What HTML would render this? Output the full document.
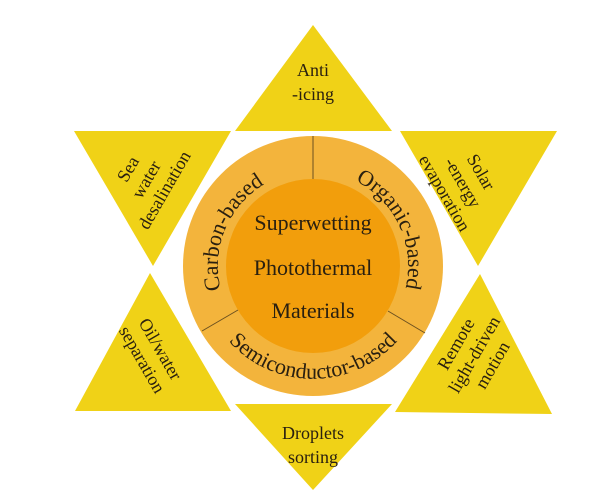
<!DOCTYPE html>
<html><head><meta charset="utf-8"><style>
html,body{margin:0;padding:0;background:#fff;}
svg{display:block;}
text{font-family:"Liberation Serif",serif;fill:#2a2010;}
</style></head><body>
<svg width="602" height="499" viewBox="0 0 602 499" xmlns="http://www.w3.org/2000/svg">
<g fill="#F0D217">
<polygon points="313,25 235,131 392,131"/>
<polygon points="74,131 231,131 153,266"/>
<polygon points="400,131 557,131 478,266"/>
<polygon points="150,273 75,411 231,411"/>
<polygon points="480,274 395,412 552,414"/>
<polygon points="235,404 392,404 313,490"/>
</g>
<circle cx="313" cy="266" r="130" fill="#F3B43C"/>
<circle cx="313" cy="266" r="87" fill="#F29E0C"/>
<g stroke="#6b5020" stroke-width="1">
<line x1="313" y1="136" x2="313" y2="179"/>
<line x1="202" y1="331" x2="238" y2="310"/>
<line x1="425" y1="333" x2="388" y2="311"/>
</g>
<defs>
<path id="arcL" d="M 240,327 A 95 95 0 0 1 313,171"/>
<path id="arcR" d="M 313,171 A 95 95 0 0 1 386,327"/>
<path id="arcB" d="M 207,305 A 113 113 0 0 0 419,305"/>
</defs>
<text font-size="22"><textPath href="#arcL" startOffset="48%" text-anchor="middle">Carbon-based</textPath></text>
<text font-size="22"><textPath href="#arcR" startOffset="50%" text-anchor="middle">Organic-based</textPath></text>
<text font-size="22"><textPath href="#arcB" startOffset="50%" text-anchor="middle">Semiconductor-based</textPath></text>
<g font-size="22" text-anchor="middle">
<text x="313" y="230">Superwetting</text>
<text x="313" y="275">Photothermal</text>
<text x="313" y="318">Materials</text>
</g>
<g font-size="18" text-anchor="middle">
<text x="313" y="76">Anti</text>
<text x="313" y="100">-icing</text>
<text x="313" y="439">Droplets</text>
<text x="313" y="463">sorting</text>
<g transform="translate(147,180) rotate(-60)">
<text x="0" y="-16">Sea</text><text x="0" y="5">water</text><text x="0" y="26">desalination</text></g>
<g transform="translate(462,183) rotate(60)">
<text x="0" y="-16">Solar</text><text x="0" y="5">-energy</text><text x="0" y="26">evaporation</text></g>
<g transform="translate(150,355) rotate(60)">
<text x="0" y="-6">Oil/water</text><text x="0" y="15">separation</text></g>
<g transform="translate(475,355) rotate(-60)">
<text x="0" y="-16">Remote</text><text x="0" y="5">light-driven</text><text x="0" y="26">motion</text></g>
</g>
</svg>
</body></html>
